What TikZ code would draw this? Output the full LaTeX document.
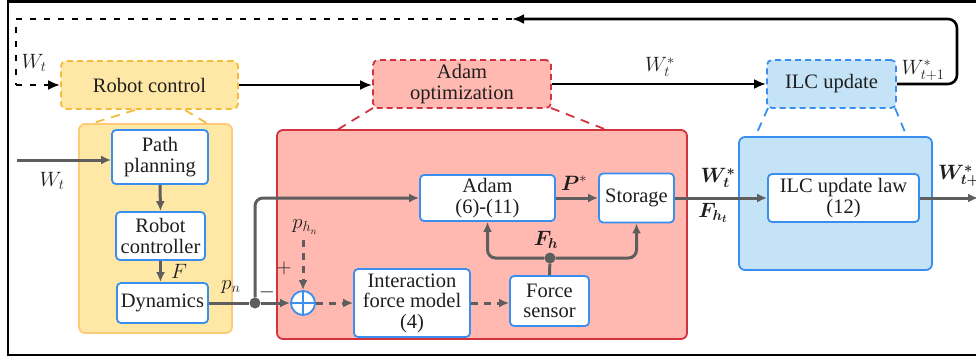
\documentclass[tikz,border=0pt]{standalone}
\usepackage{fontspec}
\setmainfont{Liberation Serif}
\newfontfamily\dserif{Liberation Serif}
\usepackage{amsmath,bm}
\usetikzlibrary{arrows.meta,calc}
\definecolor{yfill}{HTML}{FFE8A6}
\definecolor{yedge}{HTML}{FFC97A}
\definecolor{ydash}{HTML}{F5BC3C}
\definecolor{rfill}{HTML}{FFB9B0}
\definecolor{redge}{HTML}{D3323F}
\definecolor{bfill}{HTML}{C4E3F6}
\definecolor{bedge}{HTML}{3A8EF0}
\definecolor{gline}{HTML}{5E5E5E}
\definecolor{tcol}{HTML}{1E1E1E}
\tikzset{
  txt/.style={font=\dserif\fontsize{20.5}{20.5}\selectfont, text=tcol},
  mlab/.style={font=\fontsize{22}{24}\selectfont, inner sep=0pt, text=tcol},
  inbox/.style={draw=bedge, fill=white, line width=1.8pt, rounded corners=4pt, align=center, inner sep=0pt, txt},
  smallbox/.style={line width=1.8pt, rounded corners=5pt, dash pattern=on 6pt off 4pt, align=center, inner sep=0pt, txt},
  bigbox/.style={line width=1.8pt, rounded corners=6pt, inner sep=0pt},
  zoomline/.style={line width=1.8pt, dash pattern=on 9pt off 7pt},
  gconn/.style={draw=gline, line width=3pt, -{Latex[length=10pt,width=9pt]}},
  gdash/.style={gconn, dash pattern=on 7pt off 6pt},
  bconn/.style={draw=black, line width=2.6pt, -{Latex[length=12pt,width=10pt]}},
  dotn/.style={circle, fill=gline, minimum size=11pt, inner sep=0pt},
}
\begin{document}
\begin{tikzpicture}[x=1pt,y=-1pt]
\useasboundingbox (0,0) rectangle (976,362);
\clip (0,0) rectangle (976,362);
\fill[white] (0,0) rectangle (976,362);
% outer frame
\draw[black, line width=2.8pt] (8,1.5) rectangle (1000,355);

% big boxes
\node[bigbox, draw=yedge, fill=yfill, minimum width=153pt, minimum height=209pt] (ybox) at (155.5,228.5) {};
\node[bigbox, draw=redge, fill=rfill, minimum width=410pt, minimum height=209pt] (rbox) at (482,234.5) {};
\node[bigbox, draw=bedge, fill=bfill, minimum width=193pt, minimum height=133pt] (blbox) at (835.5,203.5) {};

% top small boxes
\node[smallbox, draw=ydash, fill=yfill, minimum width=177pt, minimum height=48pt] (rc) at (149.5,85) {Robot control};
\node[smallbox, draw=redge, fill=rfill, minimum width=178pt, minimum height=48pt] (ao) at (462,84) {Adam\\optimization};
\node[smallbox, draw=bedge, fill=bfill, minimum width=129pt, minimum height=48pt] (iu) at (831.5,84) {ILC update};

% zoom lines
\draw[zoomline, ydash] (135,110) -- (90,124);
\draw[zoomline, ydash] (185,110) -- (208,124);
\draw[zoomline, redge] (373,108) -- (337,130);
\draw[zoomline, redge] (551,108) -- (607,130);
\draw[zoomline, bedge] (768,108) -- (755,137);
\draw[zoomline, bedge] (895,108) -- (907,137);

% inner boxes
\node[inbox, minimum width=96pt, minimum height=54pt] (pp) at (160,157) {Path\\planning};
\node[inbox, minimum width=89pt, minimum height=48pt] (rcon) at (160.5,236) {Robot\\controller};
\node[inbox, minimum width=91pt, minimum height=40pt] (dyn) at (162.5,303) {Dynamics};
\node[inbox, minimum width=135pt, minimum height=46pt] (adam) at (487.5,198) {Adam\\(6)-(11)};
\node[inbox, minimum width=75pt, minimum height=49pt] (stor) at (636.5,198) {Storage};
\node[inbox, minimum width=116pt, minimum height=68pt] (ifm) at (412,303) {Interaction\\force model\\(4)};
\node[inbox, minimum width=79pt, minimum height=50pt] (fs) at (549.5,301) {Force\\sensor};
\node[inbox, minimum width=151pt, minimum height=48pt] (ilc) at (843.5,198) {ILC update law\\(12)};

\node[circle, draw=bedge, fill=white, line width=1.8pt, minimum size=24pt, inner sep=0pt] (sum) at (303,303) {};
\draw[bedge, line width=1.8pt] (sum.north) -- (sum.south) (sum.west) -- (sum.east);

% coordinates
\coordinate (in) at (17,160);
\coordinate (out) at (978,198);
\coordinate (fbR) at (957,19);
\coordinate (fbM) at (512,19);
\coordinate (fbL) at (16,19);
\coordinate (fbD) at (16,85);
\coordinate (phn) at (303,240);
\node[dotn] (j) at (255,303) {};
\node[dotn] (fd) at (550,258) {};

% black top connectors
\draw[bconn] (rc.east) -- (ao.west |- rc.east);
\draw[bconn] (ao.east) -- (iu.west);
\draw[bconn, rounded corners=9pt] (iu.east) -| (fbR) -- (fbM);
\draw[black, line width=2.6pt, dash pattern=on 6pt off 8pt] (fbM) -- (fbL) -- (fbD);
\draw[bconn, dash pattern=on 6pt off 8pt] (fbD) -- (rc.west);

% gray connectors
\draw[gconn] (in) -- (pp.west |- in);
\draw[gconn] (pp.south) -- (rcon.north);
\draw[gconn] (rcon.south) -- (dyn.north -| rcon.south);
\draw[gline, line width=3pt] (dyn.east) -- (j);
\draw[gconn] (j) -- (sum.west);
\draw[gconn, rounded corners=8pt] (j) |- (adam.west);
\draw[gdash] (phn) -- (sum.north);
\draw[gdash] (sum.east) -- (ifm.west);
\draw[gdash] (ifm.east) -- (fs.west |- ifm.east);
\draw[gline, line width=3pt] (fs.north) -- (fd);
\draw[gconn, rounded corners=8pt] (fd) -| (adam.south);
\draw[gconn, rounded corners=8pt] (fd) -| (stor.south);
\draw[gconn] (adam.east) -- (stor.west);
\draw[gconn] (stor.east) -- (ilc.west);
\draw[gconn] (ilc.east) -- (out);

% labels
\node[mlab] (l1) at (34,63) {$W_t$};
\node[mlab] (l2) at (660,67) {$W_t^*$};
\node[mlab] (l3) at (923,70) {$W_{t+1}^*$};
\node[mlab] (l4) at (52,181) {$W_t$};
\node[mlab] (l5) at (179,271) {$F$};
\node[mlab] (l6) at (231,287) {$p_n$};
\node[mlab] (l7) at (267,292) {$-$};
\node[mlab] (l8) at (284,268) {$+$};
\node[mlab, font=\fontsize{20}{22}\selectfont] (l9) at (305,227) {$p_{h_n}$};
\node[mlab] (l10) at (574,183) {$\bm{P}^*$};
\node[mlab] (l11) at (546,240) {$\bm{F_h}$};
\node[mlab] (l12) at (718,178) {$\bm{W_t^*}$};
\node[mlab] (l13) at (713,213) {$\bm{F_{h_t}}$};
\node[mlab] (l14) at (963,176) {$\bm{W_{t+1}^*}$};
\end{tikzpicture}
\end{document}
